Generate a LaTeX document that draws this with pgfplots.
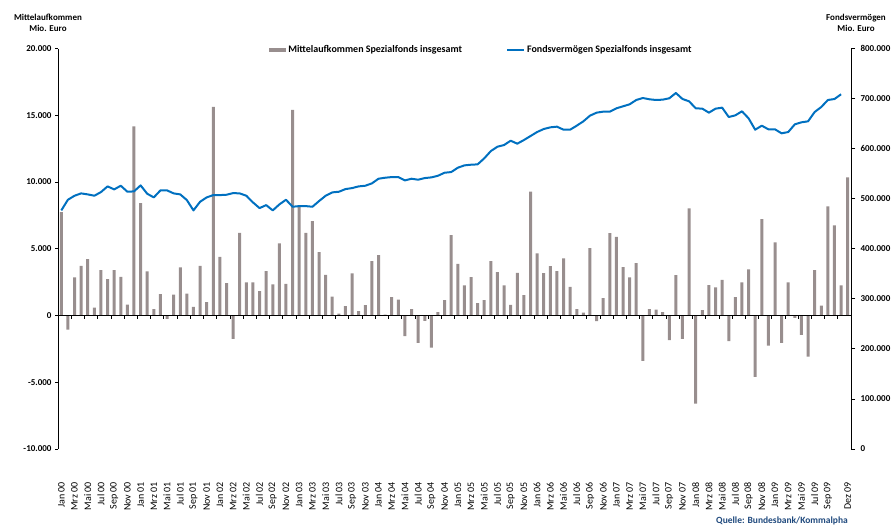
\documentclass[border=0pt]{standalone}
\usepackage{fontspec}
\setmainfont{Carlito}
\usepackage{pgfplots}
\usepackage{pgfplotstable}
\pgfplotsset{compat=1.18}
\definecolor{barcol}{RGB}{152,142,142}
\definecolor{linecol}{RGB}{0,112,192}
\definecolor{srccol}{RGB}{31,73,125}

\pgfplotstableread{
m v
0 7750
1 -1050
2 2850
3 3725
4 4225
5 600
6 3400
7 2725
8 3400
9 2900
10 825
11 14175
12 8425
13 3300
14 475
15 1600
16 -250
17 1575
18 3600
19 1650
20 650
21 3725
22 1000
23 15625
24 4400
25 2425
26 -1750
27 6200
28 2475
29 2475
30 1825
31 3325
32 2325
33 5400
34 2375
35 15400
36 8150
37 6200
38 7075
39 4750
40 3050
41 1425
42 150
43 700
44 3150
45 325
46 775
47 4075
48 4525
49 75
50 1375
51 1200
52 -1550
53 475
54 -2050
55 -400
56 -2400
57 250
58 1150
59 6025
60 3875
61 2250
62 2875
63 925
64 1150
65 4075
66 3250
67 2250
68 800
69 3200
70 1525
71 9275
72 4650
73 3175
74 3700
75 3325
76 4275
77 2150
78 475
79 225
80 5050
81 -425
82 1300
83 6175
84 5900
85 3625
86 2850
87 3925
88 -3400
89 475
90 450
91 250
92 -1850
93 3025
94 -1750
95 8025
96 -6600
97 400
98 2275
99 2100
100 2675
101 -1925
102 1375
103 2475
104 3450
105 -4600
106 7225
107 -2250
108 5475
109 -2050
110 2475
111 -175
112 -1450
113 -3075
114 3400
115 750
116 8175
117 6750
118 2250
119 10350
}\bars

\pgfplotstableread{
m v
0 476700
1 498000
2 506000
3 510700
4 508700
5 506000
6 513300
7 524700
8 518700
9 526000
10 514000
11 514700
12 526700
13 510000
14 502700
15 516700
16 516700
17 510700
18 508700
19 497300
20 476700
21 494000
22 502700
23 507300
24 507300
25 508000
26 511300
27 510700
28 506000
29 492700
30 481300
31 487300
32 476700
33 488700
34 498000
35 484000
36 485300
37 485300
38 484000
39 495300
40 506000
41 512700
42 514000
43 519300
44 521300
45 524700
46 526000
47 530700
48 540000
49 542000
50 543300
51 543300
52 536700
53 540000
54 538000
55 541300
56 542700
57 546000
58 552000
59 553300
60 562000
61 566700
62 568000
63 568700
64 580700
65 595300
66 604000
67 607300
68 616000
69 610000
70 617300
71 625300
72 633300
73 639300
74 642700
75 644000
76 638000
77 638000
78 646000
79 654700
80 666000
81 672000
82 674000
83 674000
84 680700
85 684700
86 688700
87 697300
88 701300
89 698700
90 697300
91 698000
92 700700
93 711300
94 699300
95 694700
96 680700
97 680000
98 672000
99 680000
100 682000
101 663300
102 666700
103 674700
104 660700
105 638000
106 646000
107 638700
108 638700
109 630700
110 633300
111 648700
112 652700
113 654700
114 673300
115 683300
116 697300
117 699300
118 708700
}\fonds

\begin{document}
\begin{tikzpicture}
\useasboundingbox (0,0) rectangle (894pt,526pt);
\pgfplotsset{
  base/.style={
    at={(58pt,77pt)}, anchor=south west,
    scale only axis, width=793pt, height=400.4pt,
    xmin=-0.5, xmax=119.5,
    scaled y ticks=false, scaled x ticks=false,
  }
}
% bars, left axis
\begin{axis}[base,
  ymin=-10000, ymax=20000,
  axis y line*=left, axis x line*=bottom,
  x axis line style={draw=none},
  y axis line style={black, line width=0.8pt},
  ytick={-10000,-5000,0,5000,10000,15000,20000},
  yticklabels={-10.000,-5.000,0,5.000,10.000,15.000,20.000},
  yticklabel style={font=\fontsize{9}{10}\selectfont\bfseries},
  ytick style={black, line width=0.8pt},
  ytick align=outside, major tick length=3pt,
  xtick={0,2,...,116,119},
  xticklabels={Jan 00,Mrz 00,Mai 00,Jul 00,Sep 00,Nov 00,
    Jan 01,Mrz 01,Mai 01,Jul 01,Sep 01,Nov 01,
    Jan 02,Mrz 02,Mai 02,Jul 02,Sep 02,Nov 02,
    Jan 03,Mrz 03,Mai 03,Jul 03,Sep 03,Nov 03,
    Jan 04,Mrz 04,Mai 04,Jul 04,Sep 04,Nov 04,
    Jan 05,Mrz 05,Mai 05,Jul 05,Sep 05,Nov 05,
    Jan 06,Mrz 06,Mai 06,Jul 06,Sep 06,Nov 06,
    Jan 07,Mrz 07,Mai 07,Jul 07,Sep 07,Nov 07,
    Jan 08,Mrz 08,Mai 08,Jul 08,Sep 08,Nov 08,
    Jan 09,Mrz 09,Mai 09,Jul 09,Sep 09,Dez 09},
  xtick style={draw=none},
  xticklabel style={rotate=90, anchor=east, font=\fontsize{10}{11}\selectfont, inner sep=0pt},
  xticklabel shift=33pt,
  legend style={draw=none, fill=none, at={(0.534,0.9965)}, anchor=center,
    font=\fontsize{10}{11}\selectfont\bfseries, legend columns=2,
    /tikz/every even column/.append style={column sep=42pt}},
]
\addplot[ybar, bar width=3pt, fill=barcol, draw=none,
  legend image code/.code={\fill[barcol] (0pt,-1.6pt) rectangle (17pt,1.6pt);}]
  table[x=m, y=v] {\bars};
\addlegendentry{Mittelaufkommen Spezialfonds insgesamt}
\addlegendimage{linecol, line width=2pt, legend image code/.code={\draw[linecol, line width=2pt] (0pt,0pt) -- (17pt,0pt);}}
\addlegendentry{Fondsverm\"ogen Spezialfonds insgesamt}
\end{axis}
% zero line with ticks
\begin{axis}[base,
  ymin=-10000, ymax=20000,
  axis x line=middle, axis y line=none,
  x axis line style={-, black, line width=0.8pt},
  xtick={1.5,3.5,...,117.5}, xticklabels={},
  xtick align=outside, major tick length=3pt,
  xtick style={black, line width=0.6pt},
]
\addplot[draw=none] coordinates {(0,0)};
\end{axis}
% line, right axis
\begin{axis}[base,
  ymin=0, ymax=800000,
  axis y line*=right, axis x line=none,
  y axis line style={black, line width=0.8pt},
  ytick={0,100000,...,800000},
  yticklabels={0,100.000,200.000,300.000,400.000,500.000,600.000,700.000,800.000},
  yticklabel style={font=\fontsize{9}{10}\selectfont\bfseries, xshift=2pt},
  ytick style={black, line width=0.8pt},
  ytick align=outside, major tick length=4pt,
]
\addplot[linecol, line width=2pt, line join=round] table[x=m, y=v] {\fonds};
\end{axis}
\node[align=center, font=\fontsize{9}{10.5}\selectfont\bfseries] at (48pt,503pt) {Mittelaufkommen\\Mio. Euro};
\node[align=center, font=\fontsize{9}{10.5}\selectfont\bfseries] at (856pt,503pt) {Fondsverm\"ogen\\Mio. Euro};
\node[anchor=east, font=\fontsize{9.5}{10}\selectfont\bfseries, text=srccol, inner sep=0pt] at (848pt,5pt) {Quelle: Bundesbank/Kommalpha};
\end{tikzpicture}
\end{document}
